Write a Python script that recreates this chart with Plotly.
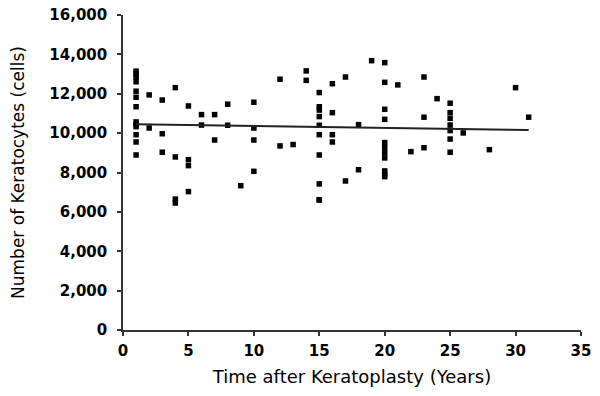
import plotly.graph_objects as go

years = [1]*13 + [2]*2 + [3]*3 + [4]*4 + [5]*4 + [6]*2 + [7]*2 + [8]*2 + [9] + [10]*4 \
    + [12]*2 + [13] + [14]*2 + [15]*10 + [16]*4 + [17]*2 + [18]*2 + [19] + [20]*11 \
    + [21] + [22] + [23]*3 + [24] + [25]*7 + [26] + [28] + [30] + [31]

cells = [
    13150, 13000, 12840, 12610, 12130, 11820, 11340, 10570, 10430, 10330, 9920, 9550, 8890,  # 1
    11940, 10260,                      # 2
    11680, 9970, 9030,                 # 3
    12310, 8790, 6650, 6450,           # 4
    11380, 8650, 8350, 7030,           # 5
    10940, 10410,                      # 6
    10940, 9650,                       # 7
    11470, 10400,                      # 8
    7330,                              # 9
    11570, 10260, 9650, 8060,          # 10
    12740, 9350,                       # 12
    9420,                              # 13
    13160, 12680,                      # 14
    12060, 11340, 11170, 10840, 10400, 9920, 8890, 7420, 6620, 6600,  # 15
    12510, 11040, 9920, 9550,          # 16
    12850, 7570,                       # 17
    10430, 8140,                       # 18
    13680,                             # 19
    13580, 12580, 11210, 10700, 9520, 9270, 9000, 8740, 8080, 7900, 7790,  # 20
    12450,                             # 21
    9060,                              # 22
    12850, 10810, 9260,                # 23
    11750,                             # 24
    11520, 11040, 10750, 10410, 10130, 9700, 9030,  # 25
    10010,                             # 26
    9160,                              # 28
    12310,                             # 30
    10810,                             # 31
]

trend_x = [1, 31]
trend_y = [10450, 10160]

x_ticks = [0, 5, 10, 15, 20, 25, 30, 35]
y_ticks = [0, 2000, 4000, 6000, 8000, 10000, 12000, 14000, 16000]
y_tick_labels = ["0", "2,000", "4,000", "6,000", "8,000", "10,000", "12,000", "14,000", "16,000"]

FONT = "DejaVu Sans, Liberation Sans, Arial, sans-serif"

fig = go.Figure()
fig.add_trace(go.Scatter(
    x=years, y=cells, mode="markers",
    marker=dict(symbol="square", size=5.5, color="black", line=dict(width=0)),
    showlegend=False, cliponaxis=False,
))
fig.add_trace(go.Scatter(
    x=trend_x, y=trend_y, mode="lines",
    line=dict(color="#222222", width=2),
    showlegend=False,
))

axis_common = dict(
    showgrid=False, zeroline=False, showline=True, linecolor="#333333", linewidth=1.5,
    ticks="outside", ticklen=4, tickwidth=1.5, tickcolor="#333333", automargin=False,
    ticklabeloverflow="allow",
    tickfont=dict(family=FONT, size=15, color="black", weight="bold"),
)

# the page body adds an 8px margin on every side, so the figure is sized to
# fit inside the 600x396 window without creating scrollbars
fig.update_layout(
    width=584, height=380,
    margin=dict(l=115, r=11, t=7, b=58),
    plot_bgcolor="white", paper_bgcolor="white",
    xaxis=dict(range=[0, 35], tickvals=x_ticks, ticklabelstandoff=2, **axis_common,
               title=dict(text="Time after Keratoplasty (Years)", standoff=12,
                          font=dict(family=FONT, size=18, color="black"))),
    yaxis=dict(range=[0, 16000], tickvals=y_ticks, ticktext=y_tick_labels,
               ticklabelstandoff=7, **axis_common,
               title=dict(text="Number of Keratocytes (cells)", standoff=24,
                          font=dict(family=FONT, size=17, color="black"))),
)

fig.write_html("out.html")
